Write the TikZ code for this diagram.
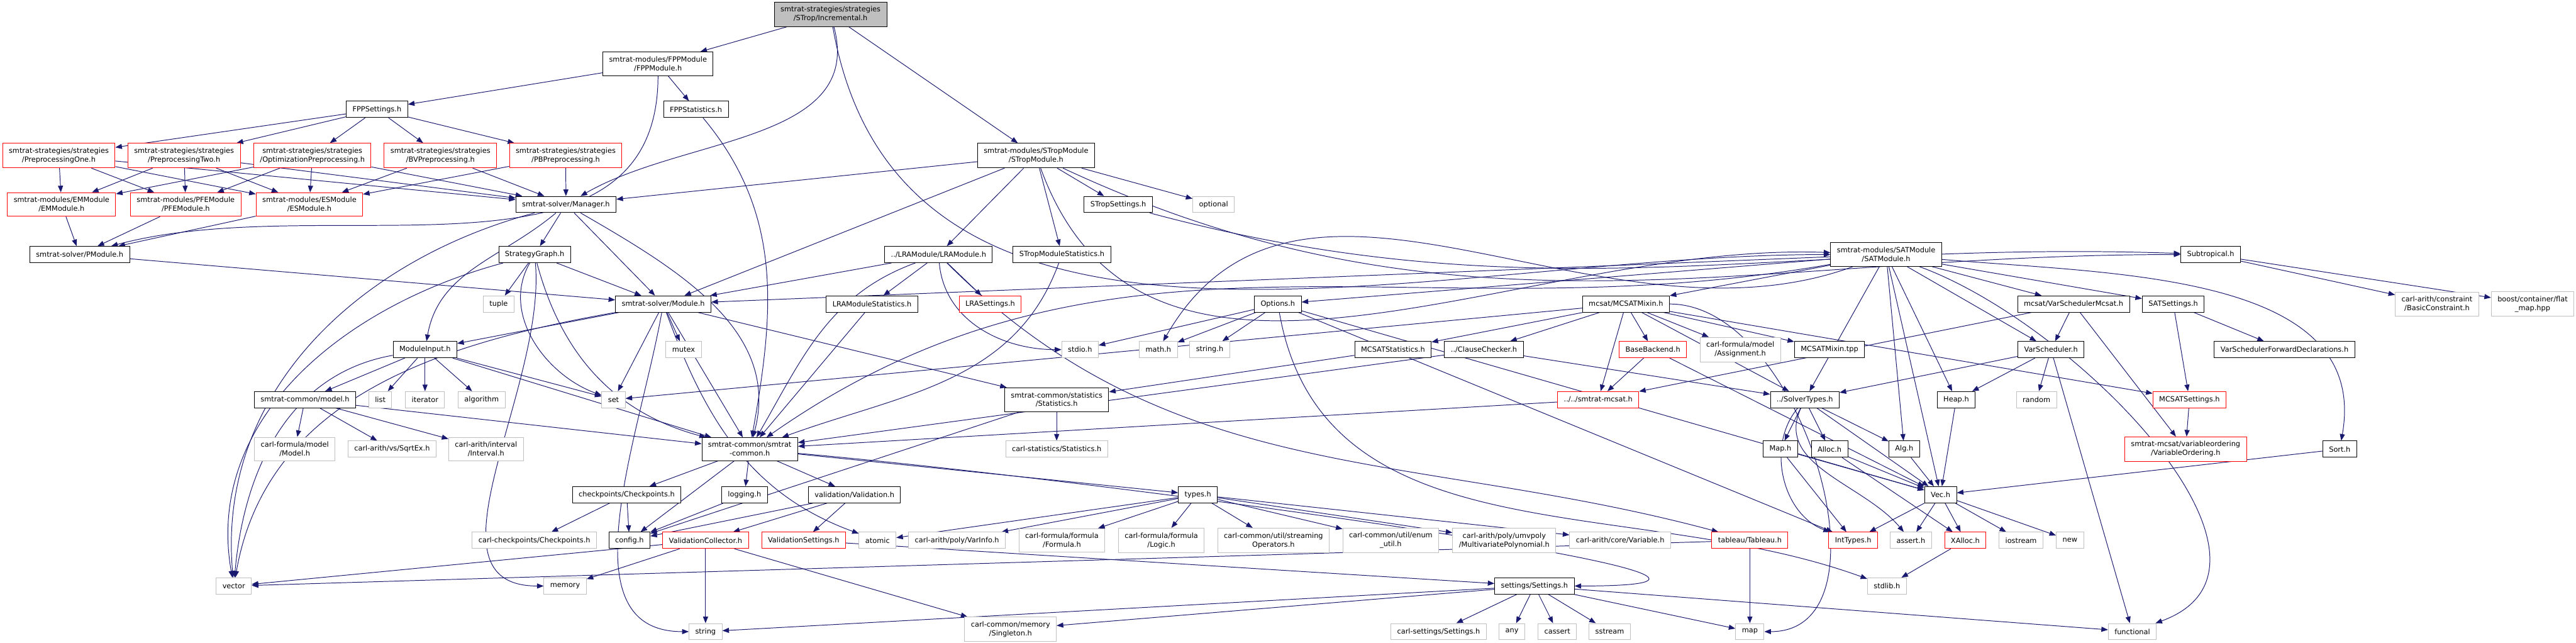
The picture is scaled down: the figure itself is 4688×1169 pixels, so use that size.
\documentclass[tikz,border=0pt]{standalone}
\usepackage{fontspec}
\setmainfont{DejaVu Sans}
\usepackage{tikz}
\usetikzlibrary{arrows.meta}
\definecolor{midnight}{RGB}{25,25,112}
\definecolor{grey75}{RGB}{191,191,191}
\definecolor{gvred}{RGB}{255,0,0}
\pgfdeclarelayer{background}
\pgfsetlayers{background,main}

\begin{document}
\begin{tikzpicture}
          [x=0.25pt,y=-0.25pt,->,>={Triangle[length=3pt,width=2.3pt]},
           every edge/.append style={draw=midnight,line width=0.28pt}]
          \tikzstyle{file}=[draw=black,fill=white,text=black,line width=0.28pt,align=center,
                            inner xsep=2.85pt,inner ysep=2pt,minimum height=7.4pt,
                            font=\fontsize{3.25}{4}\selectfont]
          \tikzstyle{sysfile}=[file,draw=grey75]
          \tikzstyle{cutfile}=[file,draw=gvred]
          \tikzstyle{topfile}=[file,fill=grey75]

          \useasboundingbox (0,0) rectangle (4688,1169);

          \node[topfile] (incr) at (1511.5,26) {smtrat-strategies/strategies\\/STrop/Incremental.h};
          \node[file] (fppmod) at (1197.5,116) {smtrat-modules/FPPModule\\/FPPModule.h};
          \node[file] (fppset) at (686,199) {FPPSettings.h};
          \node[file] (fppstat) at (1266.5,199) {FPPStatistics.h};

          \node[cutfile] (preone) at (107,283) {smtrat-strategies/strategies\\/PreprocessingOne.h};
          \node[cutfile] (pretwo) at (335,283) {smtrat-strategies/strategies\\/PreprocessingTwo.h};
          \node[cutfile] (optpre) at (568.5,283) {smtrat-strategies/strategies\\/OptimizationPreprocessing.h};
          \node[cutfile] (bvpre) at (801.5,283) {smtrat-strategies/strategies\\/BVPreprocessing.h};
          \node[cutfile] (pbpre) at (1029.5,283) {smtrat-strategies/strategies\\/PBPreprocessing.h};
          \node[file] (stropmod) at (1885.5,283) {smtrat-modules/STropModule\\/STropModule.h};

          \node[cutfile] (emmod) at (112,372) {smtrat-modules/EMModule\\/EMModule.h};
          \node[cutfile] (pfemod) at (338,372) {smtrat-modules/PFEModule\\/PFEModule.h};
          \node[cutfile] (esmod) at (563,372) {smtrat-modules/ESModule\\/ESModule.h};
          \node[file] (manager) at (1030,372) {smtrat-solver/Manager.h};
          \node[file] (stropset) at (2035,372) {STropSettings.h};
          \node[sysfile] (optional) at (2208.5,372) {optional};

          \node[file] (pmod) at (145,463) {smtrat-solver/PModule.h};
          \node[file] (stratgraph) at (973,463) {StrategyGraph.h};
          \node[file] (lramod) at (1708,463) {../LRAModule/LRAModule.h};
          \node[file] (stropstat) at (1932.5,463) {STropModuleStatistics.h};
          \node[file] (satmod) at (3432.5,463) {smtrat-modules/SATModule\\/SATModule.h};
          \node[file] (subtrop) at (4023,463) {Subtropical.h};

          \node[sysfile] (tuple) at (907.5,553) {tuple};
          \node[file] (module) at (1207,553) {smtrat-solver/Module.h};
          \node[file] (lrastat) at (1587,553) {LRAModuleStatistics.h};
          \node[cutfile] (lraset) at (1802,553) {LRASettings.h};
          \node[file] (options) at (2325.5,553) {Options.h};
          \node[file] (mixin) at (2959,553) {mcsat/MCSATMixin.h};
          \node[file] (vsmcsat) at (3773.5,553) {mcsat/VarSchedulerMcsat.h};
          \node[file] (satset) at (3955,553) {SATSettings.h};
          \node[sysfile] (basiccon) at (4435,553) {carl-arith/constraint\\/BasicConstraint.h};
          \node[sysfile] (flatmap) at (4609,553) {boost/container/flat\\\_map.hpp};

          \node[file] (modinput) at (773.5,636) {ModuleInput.h};
          \node[sysfile] (mutex) at (1244,636) {mutex};
          \node[sysfile] (stdio) at (1965.5,636) {stdio.h};
          \node[sysfile] (mathh) at (2108,636) {math.h};
          \node[sysfile] (stringh) at (2201.5,636) {string.h};
          \node[file] (mcstat) at (2535,636) {MCSATStatistics.h};
          \node[file] (clausechk) at (2700.5,636) {../ClauseChecker.h};
          \node[cutfile] (basebk) at (3008,636) {BaseBackend.h};
          \node[sysfile] (assign) at (3167,636) {carl-formula/model\\/Assignment.h};
          \node[file] (mixintpp) at (3329.5,636) {MCSATMixin.tpp};
          \node[file] (varsched) at (3732.5,636) {VarScheduler.h};
          \node[file] (vsfwd) at (4157.5,636) {VarSchedulerForwardDeclarations.h};

          \node[file] (model) at (555,727) {smtrat-common/model.h};
          \node[sysfile] (list) at (692,727) {list};
          \node[sysfile] (iterator) at (773.5,727) {iterator};
          \node[sysfile] (algorithm) at (876.5,727) {algorithm};
          \node[sysfile] (set) at (1116.5,727) {set};
          \node[file] (stats) at (1923,727) {smtrat-common/statistics\\/Statistics.h};
          \node[cutfile] (mcsath) at (2908.5,727) {../../smtrat-mcsat.h};
          \node[file] (soltypes) at (3284.5,727) {../SolverTypes.h};
          \node[file] (heap) at (3560,727) {Heap.h};
          \node[sysfile] (random) at (3706,727) {random};
          \node[cutfile] (mcsatset) at (3984.5,727) {MCSATSettings.h};

          \node[sysfile] (carlmodel) at (536.5,817) {carl-formula/model\\/Model.h};
          \node[sysfile] (sqrtex) at (713.5,817) {carl-arith/vs/SqrtEx.h};
          \node[sysfile] (interval) at (884.5,817) {carl-arith/interval\\/Interval.h};
          \node[file] (common) at (1364.5,817) {smtrat-common/smtrat\\-common.h};
          \node[sysfile] (carlstats) at (1923,817) {carl-statistics/Statistics.h};
          \node[file] (maph) at (3240,817) {Map.h};
          \node[file] (alloch) at (3329.5,817) {Alloc.h};
          \node[file] (algh) at (3465.5,817) {Alg.h};
          \node[cutfile] (varorder) at (3977.5,817) {smtrat-mcsat/variableordering\\/VariableOrdering.h};
          \node[file] (sorth) at (4258,817) {Sort.h};

          \node[file] (checkpts) at (1140.5,900) {checkpoints/Checkpoints.h};
          \node[file] (logging) at (1355,900) {logging.h};
          \node[file] (validation) at (1555,900) {validation/Validation.h};
          \node[file] (types) at (2180,900) {types.h};
          \node[file] (vech) at (3531.5,900) {Vec.h};

          \node[sysfile] (carlchk) at (972.5,983) {carl-checkpoints/Checkpoints.h};
          \node[file] (config) at (1145.5,983) {config.h};
          \node[cutfile] (valcoll) at (1284,983) {ValidationCollector.h};
          \node[cutfile] (valset) at (1462.5,983) {ValidationSettings.h};
          \node[sysfile] (atomic) at (1597,983) {atomic};
          \node[sysfile] (varinfo) at (1741.5,983) {carl-arith/poly/VarInfo.h};
          \node[sysfile] (formula) at (1932.5,983) {carl-formula/formula\\/Formula.h};
          \node[sysfile] (logic) at (2113.5,983) {carl-formula/formula\\/Logic.h};
          \node[sysfile] (streamops) at (2317.5,983) {carl-common/util/streaming\\Operators.h};
          \node[sysfile] (enumutil) at (2531,983) {carl-common/util/enum\\\_util.h};
          \node[sysfile] (multipoly) at (2737.5,983) {carl-arith/poly/umvpoly\\/MultivariatePolynomial.h};
          \node[sysfile] (variable) at (2948.5,983) {carl-arith/core/Variable.h};
          \node[cutfile] (tableau) at (3184.5,983) {tableau/Tableau.h};
          \node[cutfile] (inttypes) at (3372.5,983) {IntTypes.h};
          \node[sysfile] (asserth) at (3477.5,983) {assert.h};
          \node[cutfile] (xalloc) at (3576.5,983) {XAlloc.h};
          \node[sysfile] (iostream) at (3678,983) {iostream};
          \node[sysfile] (newh) at (3767,983) {new};

          \node[sysfile] (vector) at (425.5,1066) {vector};
          \node[sysfile] (memory) at (1028.5,1066) {memory};
          \node[file] (settings) at (2792.5,1066) {settings/Settings.h};
          \node[sysfile] (stdlib) at (3434,1066) {stdlib.h};

          \node[sysfile] (string) at (1284,1149) {string};
          \node[sysfile] (singleton) at (1839,1145) {carl-common/memory\\/Singleton.h};
          \node[sysfile] (carlset) at (2618,1149) {carl-settings/Settings.h};
          \node[sysfile] (any) at (2751.5,1149) {any};
          \node[sysfile] (cassert) at (2834,1149) {cassert};
          \node[sysfile] (sstream) at (2929.5,1149) {sstream};
          \node[sysfile] (map) at (3184.5,1149) {map};
          \node[sysfile] (functional) at (3880.5,1149) {functional};

          \begin{pgfonlayer}{background}
          \fill[white,-] (0,0) rectangle (4688,1169);
          \path
          (incr) edge (fppmod) edge[out=-75,in=30] (manager) edge (stropmod)
                 edge[out=-80,in=180] (satmod)
          (fppmod) edge (fppset) edge (fppstat) edge[out=-90,in=15] (pmod)
          (fppset) edge (preone) edge (pretwo) edge (optpre) edge (bvpre) edge (pbpre)
          (preone) edge (emmod) edge (pfemod) edge (esmod) edge (manager)
          (pretwo) edge (emmod) edge (pfemod) edge (esmod) edge (manager)
          (optpre) edge (emmod) edge (pfemod) edge (esmod) edge (manager)
          (bvpre) edge (esmod) edge (manager)
          (pbpre) edge (esmod) edge (manager)
          (emmod) edge (pmod)
          (pfemod) edge (pmod)
          (esmod) edge (pmod)
          (pmod) edge (module)
          (fppstat) edge[out=-50,in=80] (common)
          (manager) edge (stratgraph) edge (module)
                    edge[out=195,in=95] (vector)
                    edge[out=220,in=80] (modinput)
                    edge[out=-30,in=75] (common)
          (stratgraph) edge (tuple) edge (module)
                       edge[out=195,in=100] (vector)
                       edge[out=-120,in=160] (set)
                       edge[out=-85,in=180] (memory)
                       edge[out=-75,in=165] (common)
          (stropmod) edge (manager) edge (module) edge (lramod) edge (stropstat)
                     edge (stropset) edge (optional)
                     edge[out=-70,in=178] (satmod)
                     edge[out=-25,in=180] (subtrop)
          (stropset) edge[out=-15,in=178] (subtrop)
          (stropstat) edge[out=-110,in=20] (common)
          (lramod) edge (module) edge (lrastat) edge (lraset)
                   edge[out=200,in=60] (common)
                   edge[out=-85,in=180] (stdio)
                   edge[out=-45,in=165] (tableau)
          (lrastat) edge (common)
          (options) edge (stdio) edge (mathh) edge (stringh) edge (inttypes) edge (vech)
                    edge[out=-80,in=160] (stdlib)
          (mixin) edge (mcstat) edge (clausechk) edge (basebk) edge (assign)
                  edge (mixintpp) edge (soltypes) edge (mcsath) edge (mcsatset) edge (set)
                  edge[out=0,in=0] (map)
          (vsmcsat) edge (mcsath) edge (varsched) edge (varorder)
          (satset) edge (mcsatset) edge (vsfwd)
          (subtrop) edge (basiccon) edge (flatmap)
          (satmod) edge (module) edge (options) edge (mixin) edge (vsmcsat) edge (satset)
                   edge (soltypes) edge (algh) edge (heap) edge (vech) edge (varsched)
                   edge[out=200,in=60] (mathh)
                   edge[out=190,in=35] (common)
                   edge[out=-5,in=80] (sorth)
                   edge[out=-20,in=20] (functional)
          (modinput) edge (model) edge (list) edge (iterator) edge (algorithm)
                     edge (set) edge (common)
                     edge[out=190,in=85] (vector)
          (module) edge (modinput) edge (set) edge (mutex) edge (common) edge (stats)
                   edge[out=190,in=80] (vector)
                   edge[out=-100,in=180] (string)
                   edge[out=-70,in=160] (atomic)
          (model) edge (carlmodel) edge (sqrtex) edge (interval) edge (common)
          (mcstat) edge (stats)
          (clausechk) edge (common) edge (soltypes)
          (basebk) edge (mcsath) edge (vech)
          (mcsath) edge (common)
          (varsched) edge (soltypes) edge (heap) edge (random) edge (functional)
          (soltypes) edge (maph) edge (alloch) edge (algh) edge (vech)
                     edge[out=-130,in=160] (inttypes)
                     edge[out=-115,in=130] (asserth)
          (heap) edge (vech)
          (mcsatset) edge (varorder)
          (maph) edge (vech) edge (inttypes)
          (alloch) edge (vech) edge (xalloc)
          (algh) edge (vech)
          (sorth) edge (vech)
          (vech) edge (inttypes) edge (asserth) edge (xalloc) edge (iostream) edge (newh)
          (xalloc) edge (stdlib)
          (tableau) edge (map) edge (vector)
          (stats) edge (carlstats) edge (config)
          (common) edge (checkpts) edge (logging) edge (validation) edge (types) edge (config)
                   edge[out=-5,in=0] (settings)
          (checkpts) edge (carlchk) edge (config)
          (logging) edge (config)
          (validation) edge (config) edge (valcoll) edge (valset)
          (valcoll) edge (vector) edge (memory) edge (string) edge (singleton)
          (valset) edge (settings)
          (types) edge (atomic) edge (varinfo) edge (formula) edge (logic)
                  edge (streamops) edge (enumutil) edge (multipoly) edge (variable)
          (settings) edge (carlset) edge (any) edge (cassert) edge (sstream)
                     edge (map) edge (functional) edge (singleton) edge (string)
          ;
          \end{pgfonlayer}
        \end{tikzpicture}
\end{document}
